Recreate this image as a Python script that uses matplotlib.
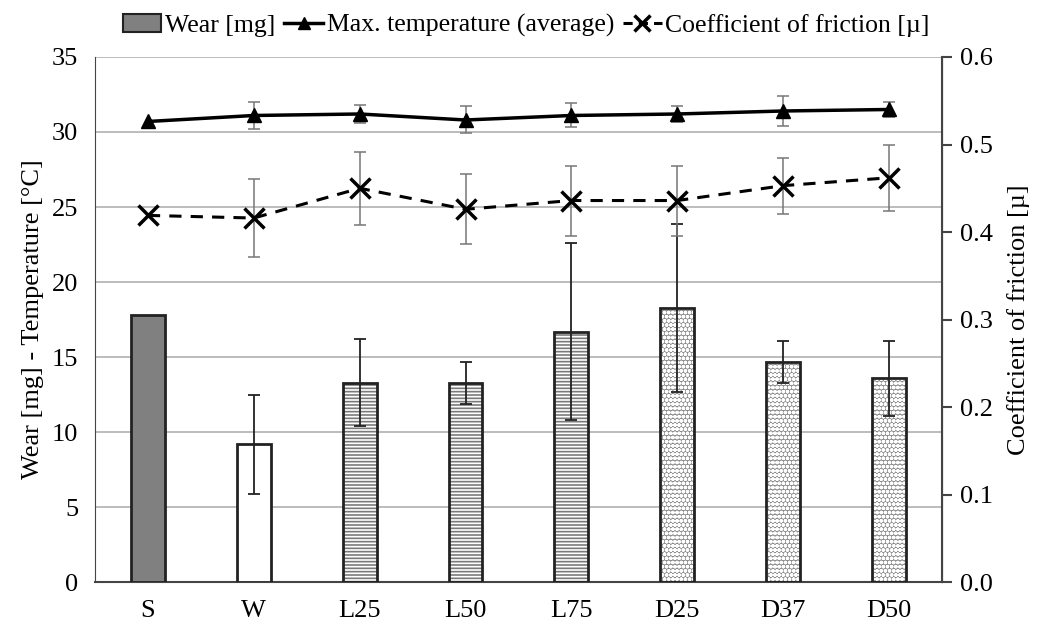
import numpy as np
import matplotlib
matplotlib.use("Agg")
import matplotlib.pyplot as plt
from matplotlib.lines import Line2D
from matplotlib.patches import Patch

plt.rcParams['font.family'] = ['Liberation Serif', 'DejaVu Serif']

# Data
samples = ['S', 'W', 'L25', 'L50', 'L75', 'D25', 'D37', 'D50']
wear = [17.8, 9.2, 13.3, 13.3, 16.7, 18.3, 14.65, 13.6]
wear_err = [0.0, 3.3, 2.9, 1.4, 5.9, 5.6, 1.4, 2.5]
temp = [30.7, 31.1, 31.2, 30.8, 31.1, 31.2, 31.4, 31.5]
temp_err = [0.0, 0.87, 0.6, 0.9, 0.8, 0.55, 1.0, 0.5]
cof = [0.419, 0.416, 0.450, 0.426, 0.436, 0.436, 0.453, 0.462]
cof_err = [0.0, 0.045, 0.042, 0.040, 0.040, 0.040, 0.032, 0.038]

# bar styles: (facecolor, hatch, hatch colour, hatch width)
styles = [('#808080', None, None, 0), ('white', None, None, 0)] + \
         [('white', '-----', '#7a7a7a', 1.2)] * 3 + [('#8c8c8c', 'oooo', 'white', 1.3)] * 3

FS = 19
x = np.arange(len(samples))
fig = plt.figure(figsize=(10.38, 6.26), dpi=100)
ax = fig.add_axes([0.0915, 0.07, 0.816, 0.839])
ax2 = ax.twinx()

ax.set_ylim(0, 35)
ax.set_xlim(-0.5, len(samples) - 0.5)
ax.set_yticks(range(0, 36, 5))
ax.yaxis.grid(True, color='#b0b0b0', linewidth=1.2)
ax.set_axisbelow(True)

w = 0.32
for i, (fc, hatch, hc, hw) in enumerate(styles):
    if hatch:
        plt.rcParams['hatch.linewidth'] = hw
        ax.bar(x[i], wear[i], w, color=fc, hatch=hatch, edgecolor=hc, linewidth=0, zorder=2)
        ax.bar(x[i], wear[i], w, fill=False, edgecolor='#222222', linewidth=2, zorder=3)
    else:
        ax.bar(x[i], wear[i], w, color=fc, edgecolor='#222222', linewidth=2, zorder=3)
errx = [i for i in x if wear_err[i] > 0]
ax.errorbar(errx, [wear[i] for i in errx], yerr=[wear_err[i] for i in errx], fmt='none',
            ecolor='#222222', elinewidth=1.3, capsize=4, capthick=1.3, zorder=4)

ax.errorbar(x[1:], temp[1:], yerr=temp_err[1:], fmt='none', ecolor='#777777',
            elinewidth=1.1, capsize=4, capthick=1.1, zorder=4)
ax.plot(x, temp, color='black', linewidth=2.5, marker='^', markersize=10, zorder=5)

ax2.set_ylim(0, 0.6)
ax2.set_yticks(np.arange(0, 0.61, 0.1))
ax2.set_yticklabels(['%.1f' % v for v in np.arange(0, 0.61, 0.1)])
ax2.errorbar(x[1:], cof[1:], yerr=cof_err[1:], fmt='none', ecolor='#777777',
             elinewidth=1.1, capsize=4, capthick=1.1, zorder=4)
ax2.plot(x, cof, color='black', linewidth=2.2, linestyle=(0, (4, 3)), marker='x',
         markersize=14, markeredgewidth=2.5, zorder=5)

for a in (ax, ax2):
    a.spines['top'].set_visible(False)
ax.spines['left'].set_color('#444444')
ax.spines['bottom'].set_color('#444444')
ax.spines['bottom'].set_linewidth(1.5)
ax2.spines['right'].set_color('#444444')
ax2.spines['right'].set_linewidth(1.5)
ax2.spines['left'].set_visible(False)
ax2.spines['bottom'].set_visible(False)

ax.set_xticks(x)
ax.set_xticklabels(samples)
ax.tick_params(axis='x', length=0, labelsize=FS, pad=13)
ax.tick_params(axis='y', length=0, labelsize=FS, pad=12)
ax2.tick_params(axis='y', length=7, width=1.5, color='#444444', labelsize=FS, pad=6)

ax.set_ylabel('Wear [mg] - Temperature [°C]', fontsize=FS, labelpad=6)
ax2.set_ylabel('Coefficient of friction [µ]', fontsize=FS, labelpad=10)

handles = [Patch(facecolor='#808080', edgecolor='#222222', linewidth=1.5),
           Line2D([], [], color='black', linewidth=2.5, marker='^', markersize=9),
           Line2D([], [], color='black', linewidth=2.2, linestyle=(0, (3, 2)), marker='x',
                  markersize=11, markeredgewidth=2.5)]
labels = ['Wear [mg]', 'Max. temperature (average)', 'Coefficient of friction [µ]']
fig.legend(handles, labels, loc='upper center', bbox_to_anchor=(0.507, 1.015), ncol=3,
           frameon=False, fontsize=18.5, handlelength=1.5, handletextpad=0.15,
           columnspacing=0.35)

fig.savefig('out.png', dpi=100)
